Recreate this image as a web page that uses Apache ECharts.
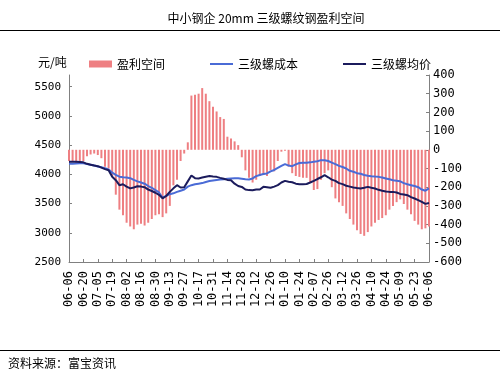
<!DOCTYPE html>
<html><head><meta charset="utf-8">
<script src="https://cdn.jsdelivr.net/npm/echarts@6/dist/echarts.min.js"></script>
<style>html,body{margin:0;padding:0;background:#fff}#c{width:500px;height:375px}</style>
</head><body><div id="c"></div>
<script>
var categories = [
'06-06','06-08','06-12','06-15','06-20','06-22','06-27','06-29','07-05','07-09','07-11','07-16',
'07-19','07-23','07-25','07-30','08-02','08-06','08-08','08-13','08-16','08-20','08-22','08-27',
'08-30','09-03','09-05','09-10','09-13','09-17','09-19','09-24','09-27','10-09','10-11','10-15',
'10-17','10-19','10-24','10-26','10-31','11-02','11-07','11-09','11-14','11-16','11-21','11-23',
'11-28','11-30','12-05','12-07','12-12','12-14','12-19','12-21','12-26','12-28','01-04','01-08',
'01-10','01-14','01-17','01-21','01-24','01-28','01-30','02-01','02-07','02-14','02-18','02-21',
'02-26','02-28','03-04','03-07','03-12','03-14','03-19','03-21','03-26','03-28','04-02','04-07',
'04-10','04-14','04-16','04-21','04-24','04-28','05-05','05-07','05-09','05-13','05-15','05-20',
'05-23','05-27','05-29','06-03','06-06'];

var profit = [
-60,-65,-70,-70,-60,-35,-25,-20,-28,-45,-90,-100,
-140,-240,-320,-350,-390,-410,-425,-400,-395,-405,-390,-370,
-350,-345,-360,-340,-300,-190,-160,-60,-20,40,290,295,
300,330,300,260,230,205,175,165,70,60,45,25,
-40,-110,-150,-175,-160,-140,-135,-140,-110,-115,-60,-10,
-5,-90,-125,-140,-145,-150,-150,-175,-215,-210,-160,-125,
-110,-200,-260,-280,-300,-340,-370,-400,-430,-450,-460,-440,
-410,-390,-375,-365,-350,-320,-300,-280,-265,-290,-320,-345,
-380,-400,-425,-420,-410];

var cost = [
4180,4180,4185,4190,4190,4175,4165,4150,4135,4120,4105,4085,
4030,3990,3960,3950,3945,3935,3905,3880,3860,3840,3800,3770,
3730,3690,3600,3630,3660,3675,3700,3720,3740,3790,3815,3830,
3840,3850,3870,3885,3895,3905,3910,3915,3925,3930,3935,3935,
3925,3915,3912,3930,3970,3990,4005,4015,4050,4075,4110,4145,
4175,4150,4140,4170,4195,4200,4197,4205,4215,4225,4243,4240,
4228,4200,4175,4145,4125,4100,4060,4045,4020,4010,3990,3975,
3968,3962,3957,3945,3930,3915,3900,3890,3880,3850,3830,3815,
3800,3780,3740,3720,3760];

var price = [
4215,4215,4215,4212,4205,4180,4165,4150,4140,4115,4090,4070,
3960,3900,3815,3830,3790,3760,3775,3797,3790,3780,3740,3715,
3685,3650,3590,3630,3700,3760,3815,3775,3780,3880,3980,3935,
3930,3945,3960,3970,3962,3957,3940,3925,3905,3900,3840,3800,
3785,3740,3730,3728,3740,3741,3786,3780,3770,3790,3815,3860,
3888,3875,3865,3840,3832,3832,3835,3860,3888,3920,3950,3986,
3950,3910,3888,3850,3832,3805,3790,3775,3765,3758,3770,3786,
3770,3758,3735,3718,3705,3700,3700,3690,3665,3655,3643,3610,
3587,3560,3530,3495,3511];

var leftTicks = {min:2500, max:5700, interval:500};
var rightTicks = {min:-600, max:400, interval:100};
var seriesNames = ['盈利空间','三级螺成本','三级螺均价'];

var chart = echarts.init(document.getElementById('c'), null, {renderer:'canvas'});
var axisColor = '#808080';
var mono = '"DejaVu Sans Mono", monospace';
var cjk = '"Noto Sans CJK SC", sans-serif';
var legendText = {fontSize:12, color:'#000', fontFamily:cjk};
function mkLegend(left, name, h){
  return {left:left, top:58, padding:0, itemWidth:23, itemHeight:h, icon:'rect', textStyle:legendText, data:[name]};
}
chart.setOption({
  backgroundColor:'#fff',
  animation:false,
  grid:{left:69, right:71, top:75, bottom:113},
  legend:[mkLegend(89, seriesNames[0], 7), mkLegend(210, seriesNames[1], 2), mkLegend(343, seriesNames[2], 2)],
  graphic:[
    {type:'text', x:266, y:12, style:{text:'中小钢企 20mm 三级螺纹钢盈利空间', font:'12px '+cjk, fill:'#000', textAlign:'center'}},
    {type:'line', shape:{x1:0,y1:30.5,x2:500,y2:30.5}, style:{stroke:'#000', lineWidth:1}},
    {type:'text', x:38, y:56, style:{text:'元/吨', font:'12px '+cjk, fill:'#000'}},
    {type:'line', shape:{x1:0,y1:350.5,x2:500,y2:350.5}, style:{stroke:'#000', lineWidth:1}},
    {type:'text', x:8, y:357, style:{text:'资料来源：富宝资讯', font:'12px '+cjk, fill:'#000'}}
  ],
  xAxis:{
    type:'category', data:categories, boundaryGap:false,
    axisLine:{onZero:false, lineStyle:{color:axisColor}},
    axisTick:{inside:true, length:3, interval:3, lineStyle:{color:axisColor}},
    axisLabel:{interval:3, rotate:90, margin:9, fontSize:12, fontFamily:mono, color:'#000'},
    splitLine:{show:false}
  },
  yAxis:[
    {type:'value', position:'left', min:leftTicks.min, max:leftTicks.max, interval:leftTicks.interval,
     axisLine:{show:true, lineStyle:{color:axisColor}},
     axisTick:{show:true, inside:true, length:3, lineStyle:{color:axisColor}},
     axisLabel:{showMaxLabel:false, margin:8, fontSize:11, fontFamily:mono, color:'#000',
                formatter:function(v){return String(v);}},
     splitLine:{show:false}},
    {type:'value', position:'right', min:rightTicks.min, max:rightTicks.max, interval:rightTicks.interval,
     axisLine:{show:true, lineStyle:{color:axisColor}},
     axisTick:{show:true, inside:true, length:3, lineStyle:{color:axisColor}},
     axisLabel:{margin:4, fontSize:12, fontFamily:mono, color:'#000',
                formatter:function(v){return String(v);}},
     splitLine:{show:false}}
  ],
  series:[
    {name:seriesNames[0], type:'bar', yAxisIndex:1, data:profit, barWidth:2,
     itemStyle:{color:'#EE7F82'}, z:1},
    {name:seriesNames[1], type:'line', yAxisIndex:0, data:cost, symbol:'none',
     lineStyle:{color:'#4A6BD6', width:2}, itemStyle:{color:'#4A6BD6'}, z:3},
    {name:seriesNames[2], type:'line', yAxisIndex:0, data:price, symbol:'none',
     lineStyle:{color:'#1B1B5C', width:2}, itemStyle:{color:'#1B1B5C'}, z:4}
  ]
});
</script></body></html>
